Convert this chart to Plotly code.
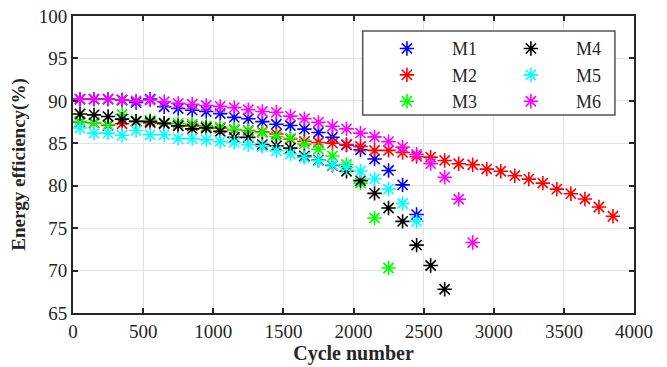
import plotly.graph_objects as go

cycles = [50, 150, 250, 350, 450, 550, 650, 750, 850, 950, 1050, 1150, 1250,
          1350, 1450, 1550, 1650, 1750, 1850, 1950, 2050, 2150, 2250, 2350,
          2450, 2550, 2650, 2750, 2850, 2950, 3050, 3150, 3250, 3350, 3450,
          3550, 3650, 3750, 3850]

m1 = [90.2, 90.2, 90.2, 90.1, 89.8, 90.2, 89.3, 89.1, 88.9, 88.75, 88.5, 88.05,
      87.9, 87.55, 87.25, 87.1, 86.67, 86.27, 85.72, 84.8, 84.24, 83.14, 81.8,
      80.1, 76.6]
m2 = [87.5, 87.4, 87.1, 87.3, 87.55, 87.4, 87.3, 87.1, 87.05, 86.9, 86.8, 86.6,
      86.5, 86.35, 86.1, 85.5, 85.22, 85.1, 85.02, 84.85, 84.63, 84.16, 84.16,
      83.92, 83.45, 83.37, 82.98, 82.59, 82.47, 81.96, 81.7, 81.18, 80.78,
      80.31, 79.6, 79.06, 78.43, 77.49, 76.4]
m3 = [87.6, 87.4, 87.2, 88.4, 87.6, 87.7, 87.4, 87.35, 87.25, 87.05, 86.9, 86.65,
      86.45, 86.27, 85.8, 85.6, 84.9, 84.3, 83.5, 82.5, 80.3, 76.2, 70.3]
m4 = [88.45, 88.35, 88.15, 87.85, 87.6, 87.55, 87.35, 87.05, 86.7, 86.8, 86.4,
      85.7, 85.7, 84.85, 84.7, 84.43, 83.5, 83.0, 82.4, 81.7, 80.6, 79.1, 77.37,
      75.8, 73.0, 70.6, 67.8]
m5 = [86.8, 86.2, 86.2, 85.95, 86.5, 86.0, 86.0, 85.55, 85.55, 85.4, 85.2, 85.1,
      84.82, 84.63, 84.12, 83.73, 83.33, 82.94, 82.45, 82.15, 81.73, 80.8, 79.6,
      77.9, 75.8]
m6 = [90.2, 90.2, 90.2, 90.1, 90.0, 90.1, 89.9, 89.7, 89.6, 89.45, 89.35, 89.2,
      88.95, 88.75, 88.65, 88.2, 87.9, 87.47, 87.0, 86.7, 86.2, 85.75, 85.2,
      84.55, 83.7, 82.6, 81.0, 78.4, 73.3]

names = ["M1", "M2", "M3", "M4", "M5", "M6"]
series = [m1, m2, m3, m4, m5, m6]
colors = ["#0000FF", "#FF0000", "#00FF00", "#000000", "#00FFFF", "#FF00FF"]
legends = ["legend", "legend", "legend", "legend2", "legend2", "legend2"]

x_ticks = [0, 500, 1000, 1500, 2000, 2500, 3000, 3500, 4000]
y_ticks = [65, 70, 75, 80, 85, 90, 95, 100]

FONT = "Liberation Serif, serif"

fig = go.Figure()
for name, vals, col, lg in zip(names, series, colors, legends):
    fig.add_trace(go.Scatter(
        x=cycles[:len(vals)], y=vals, mode="markers", name=name,
        legend=lg, legendgroup=name,
        marker=dict(symbol="asterisk-open", size=12, color=col,
                    line=dict(color=col, width=1.6)),
    ))

axis_common = dict(
    showline=True, linecolor="#262626", linewidth=2, mirror="ticks",
    ticks="inside", ticklen=5, tickwidth=2, tickcolor="#262626",
    showgrid=True, gridcolor="#e3e3e3", gridwidth=1, zeroline=False,
    automargin=False,
    tickfont=dict(family=FONT, size=19, color="#262626"),
)

fig.update_layout(
    width=667, height=367,
    margin=dict(l=73, r=33, t=16, b=54),
    paper_bgcolor="white", plot_bgcolor="white",
    font=dict(family=FONT, color="#262626"),
    xaxis=dict(range=[0, 4000], tickvals=x_ticks,
               title=dict(text="<b>Cycle number</b>", font=dict(family=FONT, size=20, color="#262626"), standoff=3),
               **axis_common),
    yaxis=dict(range=[65, 100], tickvals=y_ticks,
               title=dict(text="<b>Energy efficiency(%)</b>", font=dict(family=FONT, size=19, color="#262626"), standoff=8),
               **axis_common),
    legend=dict(x=0.515, y=0.952, xanchor="left", yanchor="top",
                bgcolor="rgba(0,0,0,0)", itemwidth=80, tracegroupgap=0,
                traceorder="grouped",
                font=dict(family=FONT, size=18, color="#262626")),
    legend2=dict(x=0.736, y=0.952, xanchor="left", yanchor="top",
                 bgcolor="rgba(0,0,0,0)", itemwidth=80, tracegroupgap=0,
                 traceorder="grouped",
                 font=dict(family=FONT, size=18, color="#262626")),
    shapes=[dict(type="rect", xref="paper", yref="paper",
                 x0=0.5164, x1=0.966, y0=0.6667, y1=0.9495,
                 line=dict(color="#555555", width=1.5), fillcolor="white",
                 layer="above")],
)

fig.write_html("out.html", config={"displayModeBar": False},
               post_script="document.body.style.margin='0px';")
